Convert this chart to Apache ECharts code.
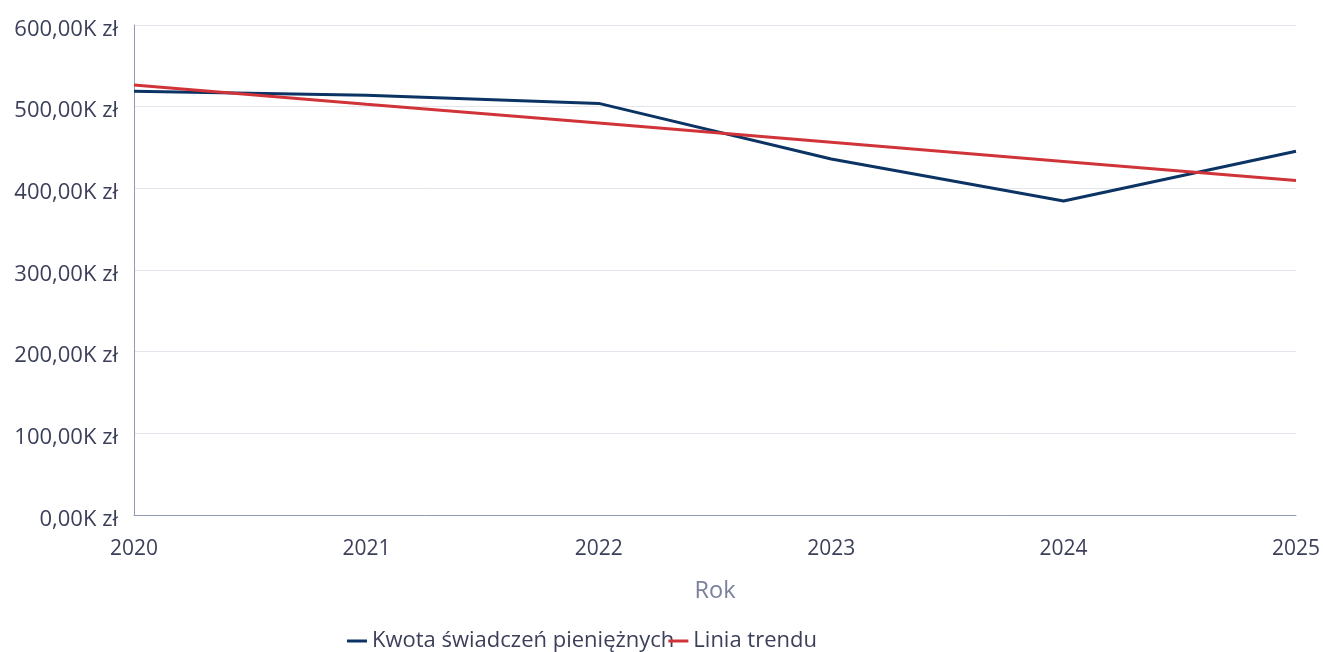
<!DOCTYPE html>
<html>
<head>
<meta charset="utf-8">
<script src="https://cdn.jsdelivr.net/npm/echarts@6/dist/echarts.min.js"></script>
<style>
  html, body { margin: 0; padding: 0; background: #fff; }
  #container { width: 1323px; height: 652px; }
</style>
</head>
<body>
<div id="container"></div>
<script>
var years = ['2020', '2021', '2022', '2023', '2024', '2025'];
var kwota = [519000, 514000, 504000, 436000, 384500, 445500];
var trend = [526500, 503000, 480000, 456500, 433000, 409500];

var dom = document.getElementById('container');
var myChart = echarts.init(dom, null, { renderer: 'canvas' });
var font = '"Open Sans", "Noto Sans", sans-serif';
var textColor = '#3c3f5a';

var option = {
  textStyle: { fontFamily: font },
  grid: { left: 134, right: 26, top: 25, bottom: 137 },
  legend: {
    top: 625,
    left: 342,
    itemGap: -6,
    itemWidth: 20,
    itemHeight: 3,
    icon: 'rect',
    textStyle: { fontFamily: font, fontSize: 22, color: textColor },
    data: ['Kwota świadczeń pieniężnych', 'Linia trendu']
  },
  xAxis: {
    type: 'category',
    data: years,
    boundaryGap: false,
    name: 'Rok',
    nameLocation: 'middle',
    nameGap: 64,
    nameTextStyle: { fontFamily: font, fontSize: 23.5, color: '#7b809c' },
    axisLine: { lineStyle: { color: '#9399b3', width: 1 } },
    axisTick: { show: false },
    axisLabel: { fontFamily: font, fontSize: 21, color: textColor, margin: 24 }
  },
  yAxis: {
    type: 'value',
    min: 0,
    max: 600000,
    interval: 100000,
    axisLine: { show: true, lineStyle: { color: '#9399b3', width: 1 } },
    axisTick: { show: false },
    splitLine: { lineStyle: { color: '#e4e4ec', width: 1 } },
    axisLabel: {
      margin: 16,
      formatter: function (v) {
        return '{v|' + (v / 1000).toFixed(2).replace('.', ',') + 'K zł}';
      },
      rich: {
        v: { fontFamily: font, fontSize: 22, color: textColor, padding: [9, 0, 0, 0] }
      }
    }
  },
  series: [
    {
      name: 'Kwota świadczeń pieniężnych',
      type: 'line',
      data: kwota,
      symbol: 'none',
      lineStyle: { color: '#0b3364', width: 3 },
      itemStyle: { color: '#0b3364' }
    },
    {
      name: 'Linia trendu',
      type: 'line',
      data: trend,
      symbol: 'none',
      lineStyle: { color: '#d13438', width: 3 },
      itemStyle: { color: '#d13438' }
    }
  ]
};

myChart.setOption(option);
window.addEventListener('resize', myChart.resize);
</script>
</body>
</html>
